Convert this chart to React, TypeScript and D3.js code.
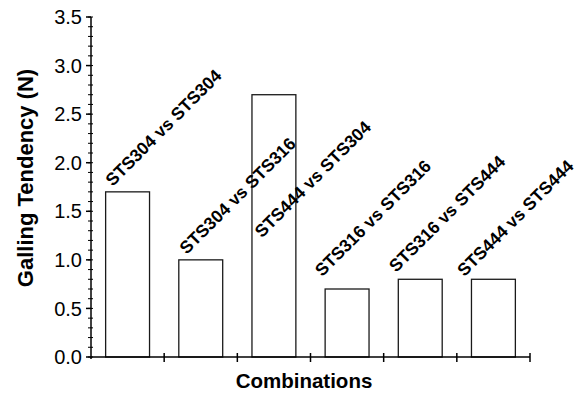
import React, { useRef, useEffect } from "react";
import * as d3 from "d3";

const categories = [
  "STS304 vs STS304",
  "STS304 vs STS316",
  "STS444 vs STS304",
  "STS316 vs STS316",
  "STS316 vs STS444",
  "STS444 vs STS444",
];
const galling = [1.7, 1.0, 2.7, 0.7, 0.8, 0.8];
// where each rotated label starts, in y units
const labelAt = [1.75, 1.05, 1.22, 0.82, 0.865, 0.82];
const yTicks = [0.0, 0.5, 1.0, 1.5, 2.0, 2.5, 3.0, 3.5];

const App = () => {
  const ref = useRef<SVGSVGElement>(null);

  useEffect(() => {
    const width = 577;
    const height = 396;
    const left = 91;
    const right = 530;
    const top = 17;
    const bottom = 357;
    const labelDx = [7, 8, 10, -3, -2, -7];

    const svg = d3.select(ref.current);
    svg.selectAll("*").remove();
    svg.attr("width", width).attr("height", height);

    const x = d3
      .scaleBand()
      .domain(categories)
      .range([left, right])
      .paddingInner(0.4)
      .paddingOuter(0.2);
    const y = d3.scaleLinear().domain([0, 3.5]).range([bottom, top]);

    // bars
    svg
      .selectAll("rect.bar")
      .data(galling)
      .enter()
      .append("rect")
      .attr("class", "bar")
      .attr("x", (d, i) => x(categories[i]))
      .attr("y", (d) => y(d))
      .attr("width", x.bandwidth())
      .attr("height", (d) => y(0) - y(d))
      .attr("fill", "#fff")
      .attr("stroke", "#1a1a1a")
      .attr("stroke-width", 1.3);

    // rotated labels
    svg
      .selectAll("text.lab")
      .data(categories)
      .enter()
      .append("text")
      .attr("class", "lab")
      .attr(
        "transform",
        (d, i) => `translate(${x(d) + labelDx[i]},${y(labelAt[i])}) rotate(-45)`
      )
      .style("font-family", "'Liberation Sans', Arial, sans-serif")
      .style("font-weight", "bold")
      .style("font-size", "17.5px")
      .attr("fill", "#000")
      .text((d) => d);

    // y axis
    const yAxis = svg.append("g").attr("stroke", "#000");
    yAxis
      .append("line")
      .attr("x1", left)
      .attr("x2", left)
      .attr("y1", top)
      .attr("y2", bottom + 2)
      .attr("stroke-width", 1.5);
    const minor = d3.range(0, 36).map((i) => i / 10);
    yAxis
      .selectAll("line.minor")
      .data(minor)
      .enter()
      .append("line")
      .attr("class", "minor")
      .attr("x1", left - 3)
      .attr("x2", left + 2)
      .attr("y1", (d) => y(d))
      .attr("y2", (d) => y(d))
      .attr("stroke-width", 1);
    yAxis
      .selectAll("line.major")
      .data(yTicks)
      .enter()
      .append("line")
      .attr("class", "major")
      .attr("x1", left - 5)
      .attr("x2", left)
      .attr("y1", (d) => y(d))
      .attr("y2", (d) => y(d))
      .attr("stroke-width", 1.5);
    svg
      .selectAll("text.ytick")
      .data(yTicks)
      .enter()
      .append("text")
      .attr("class", "ytick")
      .attr("x", left - 9)
      .attr("y", (d) => y(d))
      .attr("dy", "0.36em")
      .attr("text-anchor", "end")
      .style("font-family", "'Liberation Sans', Arial, sans-serif")
      .style("font-size", "20px")
      .text((d) => d3.format(".1f")(d));

    // x axis
    svg
      .append("line")
      .attr("x1", left)
      .attr("x2", right)
      .attr("y1", bottom)
      .attr("y2", bottom)
      .attr("stroke", "#000")
      .attr("stroke-width", 1.5);
    const edges = categories.map((c) => x(c) + x.bandwidth() + (x.step() - x.bandwidth()) / 2);
    svg
      .selectAll("line.xtick")
      .data(edges)
      .enter()
      .append("line")
      .attr("class", "xtick")
      .attr("x1", (d) => d)
      .attr("x2", (d) => d)
      .attr("y1", bottom - 4)
      .attr("y2", bottom + 5)
      .attr("stroke", "#000")
      .attr("stroke-width", 1.5);

    // axis titles
    svg
      .append("text")
      .attr("x", 304)
      .attr("y", 388)
      .attr("text-anchor", "middle")
      .style("font-family", "'Liberation Sans', Arial, sans-serif")
      .style("font-weight", "bold")
      .style("font-size", "20.5px")
      .text("Combinations");
    svg
      .append("text")
      .attr("transform", "translate(33,178) rotate(-90)")
      .attr("text-anchor", "middle")
      .style("font-family", "'Liberation Sans', Arial, sans-serif")
      .style("font-weight", "bold")
      .style("font-size", "22px")
      .text("Galling Tendency (N)");
  }, []);

  return (
    <div style={{ position: "absolute", left: 0, top: 0 }}>
      <svg ref={ref}></svg>
    </div>
  );
};

export default App;
